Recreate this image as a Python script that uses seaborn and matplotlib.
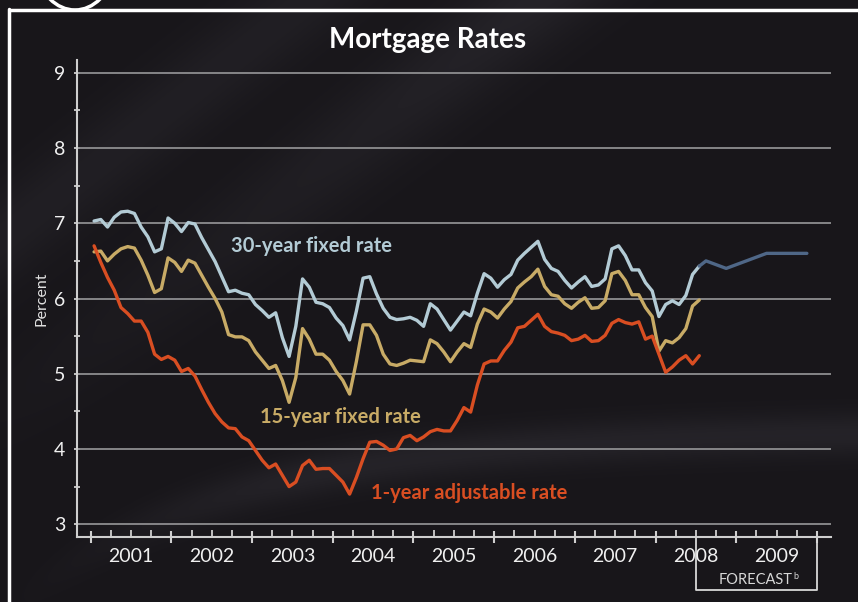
import numpy as np
import pandas as pd
import matplotlib
matplotlib.use("Agg")
import matplotlib.pyplot as plt
import matplotlib.transforms as mtransforms
from matplotlib.patches import Arc
import seaborn as sns

# monthly averages, Jan 2001 - Jul 2008
rate_30yr = [7.03, 7.05, 6.95, 7.08, 7.15, 7.16, 7.13, 6.95, 6.82, 6.62, 6.66, 7.07,
             7.00, 6.89, 7.01, 6.99, 6.81, 6.65, 6.49, 6.29, 6.09, 6.11, 6.07, 6.05,
             5.92, 5.84, 5.75, 5.81, 5.48, 5.23, 5.63, 6.26, 6.15, 5.95, 5.93, 5.88,
             5.74, 5.64, 5.45, 5.83, 6.27, 6.29, 6.06, 5.87, 5.75, 5.72, 5.73, 5.75,
             5.71, 5.63, 5.93, 5.86, 5.72, 5.58, 5.70, 5.82, 5.77, 6.07, 6.33, 6.27,
             6.15, 6.25, 6.32, 6.51, 6.60, 6.68, 6.76, 6.52, 6.40, 6.36, 6.24, 6.14,
             6.22, 6.29, 6.16, 6.18, 6.26, 6.66, 6.70, 6.57, 6.38, 6.38, 6.21, 6.10,
             5.76, 5.92, 5.97, 5.92, 6.04, 6.32, 6.43]
rate_15yr = [6.62, 6.63, 6.50, 6.59, 6.66, 6.69, 6.67, 6.51, 6.31, 6.08, 6.13, 6.54,
             6.48, 6.36, 6.51, 6.47, 6.31, 6.15, 6.00, 5.82, 5.52, 5.49, 5.49, 5.44,
             5.29, 5.18, 5.07, 5.11, 4.91, 4.62, 4.95, 5.60, 5.46, 5.26, 5.26, 5.18,
             5.03, 4.91, 4.73, 5.16, 5.65, 5.65, 5.51, 5.26, 5.13, 5.11, 5.14, 5.18,
             5.17, 5.16, 5.45, 5.40, 5.29, 5.16, 5.29, 5.40, 5.35, 5.66, 5.86, 5.82,
             5.74, 5.86, 5.96, 6.14, 6.22, 6.29, 6.39, 6.16, 6.05, 6.03, 5.93, 5.87,
             5.95, 6.01, 5.87, 5.88, 5.97, 6.33, 6.36, 6.24, 6.05, 6.05, 5.88, 5.76,
             5.30, 5.44, 5.41, 5.48, 5.60, 5.90, 5.98]
rate_arm = [6.70, 6.48, 6.28, 6.11, 5.88, 5.80, 5.70, 5.70, 5.55, 5.26, 5.19, 5.23,
            5.18, 5.03, 5.07, 4.97, 4.79, 4.62, 4.47, 4.36, 4.28, 4.27, 4.16, 4.11,
            3.98, 3.85, 3.75, 3.80, 3.65, 3.50, 3.56, 3.78, 3.85, 3.73, 3.74, 3.74,
            3.65, 3.56, 3.40, 3.62, 3.87, 4.09, 4.10, 4.05, 3.98, 4.00, 4.15, 4.18,
            4.11, 4.16, 4.23, 4.26, 4.24, 4.24, 4.38, 4.55, 4.49, 4.85, 5.13, 5.17,
            5.17, 5.31, 5.42, 5.61, 5.63, 5.71, 5.79, 5.63, 5.56, 5.54, 5.51, 5.44,
            5.46, 5.51, 5.43, 5.44, 5.51, 5.67, 5.72, 5.68, 5.66, 5.69, 5.46, 5.50,
            5.26, 5.02, 5.09, 5.18, 5.24, 5.13, 5.24]

# quarterly 30-year forecast, 2008Q3 - 2009Q4
forecast_quarters = ["2008Q3", "2008Q4", "2009Q1", "2009Q2", "2009Q3", "2009Q4"]
forecast_30yr = [6.5, 6.4, 6.5, 6.6, 6.6, 6.6]

years = list(range(2001, 2010))
y_ticks = [3, 4, 5, 6, 7, 8, 9]

series_names = ["30-year fixed rate", "15-year fixed rate", "1-year adjustable rate"]
colors = {"30-year fixed rate": "#b3cbd5",
          "15-year fixed rate": "#c8ab66",
          "1-year adjustable rate": "#d94e22"}
forecast_color = "#4f6787"

months = pd.period_range("2001-01", periods=len(rate_30yr), freq="M")
dec = np.array([m.year + (m.month - 0.5) / 12 for m in months])
df = pd.concat([
    pd.DataFrame({"date": dec, "rate": vals, "series": name})
    for name, vals in zip(series_names, [rate_30yr, rate_15yr, rate_arm])
])
fq = pd.PeriodIndex(forecast_quarters, freq="Q")
fdec = np.array([q.year + (q.quarter - 0.5) / 4 for q in fq])
df_fc = pd.DataFrame({"date": np.r_[dec[-1], fdec],
                      "rate": np.r_[rate_30yr[-1], forecast_30yr]})

sns.set_theme(style="dark")
plt.rcParams["font.family"] = ["Lato", "DejaVu Sans"]

fig = plt.figure(figsize=(8.58, 6.02), dpi=100)
fig.patch.set_facecolor("#18161a")

# background with soft streaks
bg = fig.add_axes([0, 0, 1, 1], zorder=-10)
H, W = 602, 858
yy, xx = np.mgrid[0:H, 0:W]
img = np.zeros((H, W))
d1 = (0.78 * xx + yy - 420) / np.hypot(0.78, 1)
img += 0.05 * np.exp(-(d1 / 45) ** 2) * np.clip((500 - yy) / 500, 0, 1)
d2 = (0.78 * xx + yy - 240) / np.hypot(0.78, 1)
img += 0.035 * np.exp(-(d2 / 40) ** 2)
curve = 430 + 140 * np.exp(-(xx - 60) / 220.0)
img += 0.05 * np.exp(-((yy - curve) / 22) ** 2) * np.clip(xx / 300, 0, 1)
base = np.array([0x18, 0x16, 0x1a]) / 255
rgb = np.clip(base[None, None, :] + img[:, :, None] * np.array([1.0, 1.0, 1.1]), 0, 1)
bg.imshow(rgb, aspect="auto", extent=[0, W, H, 0])
# white frame pieces
bg.plot([8, W], [10, 10], color="white", lw=2.5, solid_capstyle="butt")
bg.plot([9, 9], [9, H], color="white", lw=2.5)
bg.add_patch(Arc((75, -40), 80, 100, theta1=15, theta2=165, color="white", lw=2.5))
bg.set_xlim(0, W)
bg.set_ylim(H, 0)
bg.set_axis_off()

ax = fig.add_axes([77 / W, 65 / H, 754 / W, 477 / H])
ax.set_facecolor("none")

for y in y_ticks:
    ax.axhline(y, color="#8e8e90", lw=1.3, zorder=1)

sns.lineplot(data=df, x="date", y="rate", hue="series", hue_order=series_names,
             palette=colors, lw=2.4, legend=False, ax=ax, zorder=3)
sns.lineplot(data=df_fc, x="date", y="rate", color=forecast_color, lw=2.4,
             ax=ax, zorder=3)

ax.set_xlim(2000.83, 2010.174)
ax.set_ylim(2.83, 9.17)
ax.set_xlabel("")
ax.set_ylabel("Percent", color="#e0e0e0", fontsize=11.5, labelpad=4)

for side in ["top", "right"]:
    ax.spines[side].set_visible(False)
for side in ["left", "bottom"]:
    ax.spines[side].set_visible(True)
    ax.spines[side].set_color("#cfcfcf")
    ax.spines[side].set_linewidth(1.5)

ax.set_yticks(y_ticks)
ax.set_yticks(np.arange(3.5, 9.0, 1.0), minor=True)
ax.set_yticklabels([str(v) for v in y_ticks], fontsize=14, color="#f0f0f0")
ax.set_xticks(list(range(2001, 2011)))
ax.set_xticklabels([])
ax.set_xticks(np.arange(2001, 2010.01, 0.25), minor=True)
ax.tick_params(axis="x", which="major", direction="inout", length=9, width=1.5,
               color="#cfcfcf", bottom=True)
ax.tick_params(axis="x", which="minor", direction="in", length=5, width=1.3,
               color="#cfcfcf", bottom=True)
ax.tick_params(axis="y", which="both", direction="inout", length=5, width=1.3,
               color="#cfcfcf", left=True, pad=6)
ax.grid(False)

trans = mtransforms.blended_transform_factory(ax.transData, ax.transAxes)
for yr in years:
    ax.text(yr + 0.5, -0.04, str(yr), transform=trans, ha="center", va="center",
            fontsize=14, color="#f0f0f0")

# forecast bracket
bot = -(590 - 537) / 477
ax.plot([2008.5, 2008.5, 2010.0, 2010.0], [0, bot, bot, 0], transform=trans,
        color="#d8d8d8", lw=1.3, clip_on=False)
ax.text(2009.24, -0.091, "FORECAST", transform=trans, ha="center", va="center",
        fontsize=10.5, color="#d8d8d8")
ax.text(2009.74, -0.082, "b", transform=trans, ha="center", va="center",
        fontsize=6.5, color="#d8d8d8")

# series labels
ax.text(2003.74, 6.7, "30-year fixed rate", color=colors["30-year fixed rate"],
        fontsize=14.5, fontweight="bold", ha="center", va="center")
ax.text(2004.09, 4.42, "15-year fixed rate", color=colors["15-year fixed rate"],
        fontsize=14.5, fontweight="bold", ha="center", va="center")
ax.text(2005.69, 3.41, "1-year adjustable rate", color=colors["1-year adjustable rate"],
        fontsize=14.5, fontweight="bold", ha="center", va="center")

fig.text(428 / W, 1 - 40 / H, "Mortgage Rates", color="white", fontsize=20,
         fontweight="bold", ha="center", va="center")

fig.savefig("out.png", dpi=100, facecolor=fig.get_facecolor())
